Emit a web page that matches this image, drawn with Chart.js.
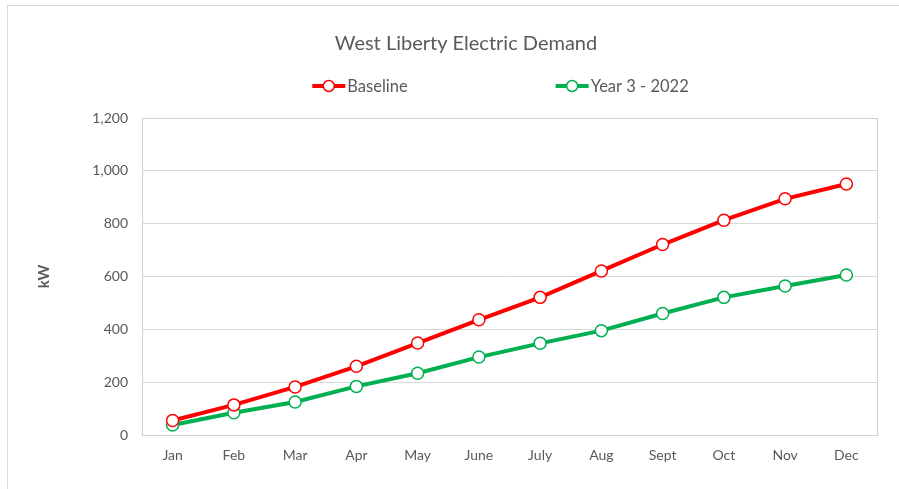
<!DOCTYPE html>
<html>
<head>
<meta charset="utf-8">
<title>West Liberty Electric Demand</title>
<script src="https://cdn.jsdelivr.net/npm/chart.js@4/dist/chart.umd.min.js"></script>
<style>
  html, body { margin: 0; padding: 0; background: #ffffff; overflow: hidden; width: 899px; height: 489px; }
  #frame {
    position: absolute; left: 7px; top: 5px;
    width: 918px; height: 500px;
    border: 1px solid #d9d9d9; box-sizing: border-box; background: #ffffff;
  }
  #frame canvas { display: block; }
</style>
</head>
<body>
<div id="frame"><canvas id="chart" width="916" height="498"></canvas></div>
<script>
// Monthly peak demand, kW
const months = ['Jan', 'Feb', 'Mar', 'Apr', 'May', 'June', 'July', 'Aug', 'Sept', 'Oct', 'Nov', 'Dec'];
const baseline = [55, 114, 182, 260, 348, 436, 521, 621, 721, 813, 894, 950];
const year3 = [38, 84, 125, 184, 234, 295, 347, 395, 460, 521, 564, 606];
const seriesNames = ['Baseline', 'Year 3 - 2022'];
const seriesColors = ['#ff0000', '#00b050'];
const yTicks = [0, 200, 400, 600, 800, 1000, 1200];

const FONT = 'Lato, "Open Sans", sans-serif';
const TEXT = '#595959';

// Legend row: short line with an open circle, then the series name
const lineLegend = {
  id: 'lineLegend',
  afterDraw(chart) {
    const ctx = chart.ctx;
    const area = chart.chartArea;
    const gap = 148, swatch = 33, textGap = 2;
    ctx.save();
    ctx.font = '16.5px ' + FONT;
    const items = chart.data.datasets.map(ds => ({
      ds, w: swatch + textGap + ctx.measureText(ds.label).width
    }));
    const total = items.reduce((s, it) => s + it.w, 0) + gap * (items.length - 1);
    let x = (area.left + area.right) / 2 - 9 - total / 2;
    const y = 80;
    items.forEach(it => {
      const c = it.ds.borderColor;
      ctx.strokeStyle = c;
      ctx.lineWidth = 4;
      ctx.beginPath();
      ctx.moveTo(x, y);
      ctx.lineTo(x + swatch, y);
      ctx.stroke();
      ctx.beginPath();
      ctx.arc(x + swatch / 2, y, 5.5, 0, Math.PI * 2);
      ctx.fillStyle = '#ffffff';
      ctx.fill();
      ctx.lineWidth = 1.5;
      ctx.stroke();
      ctx.fillStyle = TEXT;
      ctx.textBaseline = 'middle';
      ctx.textAlign = 'left';
      ctx.fillText(it.ds.label, x + swatch + textGap, y + 1);
      x += it.w + gap;
    });
    ctx.restore();
  }
};

// Thin frame round the plot area
const plotFrame = {
  id: 'plotFrame',
  beforeDatasetsDraw(chart) {
    const { ctx, chartArea: a } = chart;
    ctx.save();
    ctx.strokeStyle = '#d0d0d0';
    ctx.lineWidth = 1;
    ctx.strokeRect(Math.round(a.left) + 0.5, Math.round(a.top) + 0.5,
      Math.round(a.right - a.left), Math.round(a.bottom - a.top));
    ctx.restore();
  }
};

function series(i, values) {
  return {
    label: seriesNames[i],
    data: values,
    borderColor: seriesColors[i],
    backgroundColor: '#ffffff',
    borderWidth: 4,
    pointRadius: 6,
    pointHoverRadius: 6,
    pointBorderWidth: 1.5,
    pointBackgroundColor: '#ffffff',
    pointBorderColor: seriesColors[i],
    tension: 0,
    fill: false
  };
}

new Chart(document.getElementById('chart'), {
  type: 'line',
  data: {
    labels: months,
    datasets: [series(0, baseline), series(1, year3)]
  },
  plugins: [plotFrame, lineLegend],
  options: {
    responsive: false,
    animation: false,
    devicePixelRatio: 1,
    layout: { padding: 0 },
    plugins: {
      legend: { display: false },
      tooltip: { enabled: false },
      title: {
        display: true,
        text: 'West Liberty Electric Demand',
        color: TEXT,
        font: { family: FONT, size: 20, weight: 'normal' },
        padding: { top: 26, bottom: 62 }
      }
    },
    scales: {
      x: {
        type: 'category',
        offset: true,
        grid: { display: false, drawTicks: false },
        border: { display: false },
        ticks: { color: TEXT, font: { family: FONT, size: 14 }, padding: 12, maxRotation: 0, autoSkip: false },
        afterFit(scale) { scale.height = 69; }
      },
      y: {
        min: 0,
        max: 1200,
        afterBuildTicks(scale) { scale.ticks = yTicks.map(v => ({ value: v })); },
        grid: { color: '#d9d9d9', lineWidth: 1, drawTicks: false },
        border: { display: false },
        ticks: {
          color: TEXT,
          font: { family: FONT, size: 14 },
          padding: 14,
          callback: v => Number(v).toLocaleString('en-US')
        },
        title: {
          display: true,
          text: 'kW',
          color: TEXT,
          font: { family: FONT, size: 15, weight: 'bold' },
          padding: { top: 27, bottom: 0 }
        },
        afterFit(scale) { scale.width = 134; }
      },
      // empty margin on the right of the plot
      yRight: {
        position: 'right',
        display: true,
        min: 0,
        max: 1200,
        grid: { display: false, drawTicks: false },
        border: { display: false },
        ticks: { display: false },
        afterFit(scale) { scale.width = 47; }
      }
    }
  }
});
</script>
</body>
</html>
